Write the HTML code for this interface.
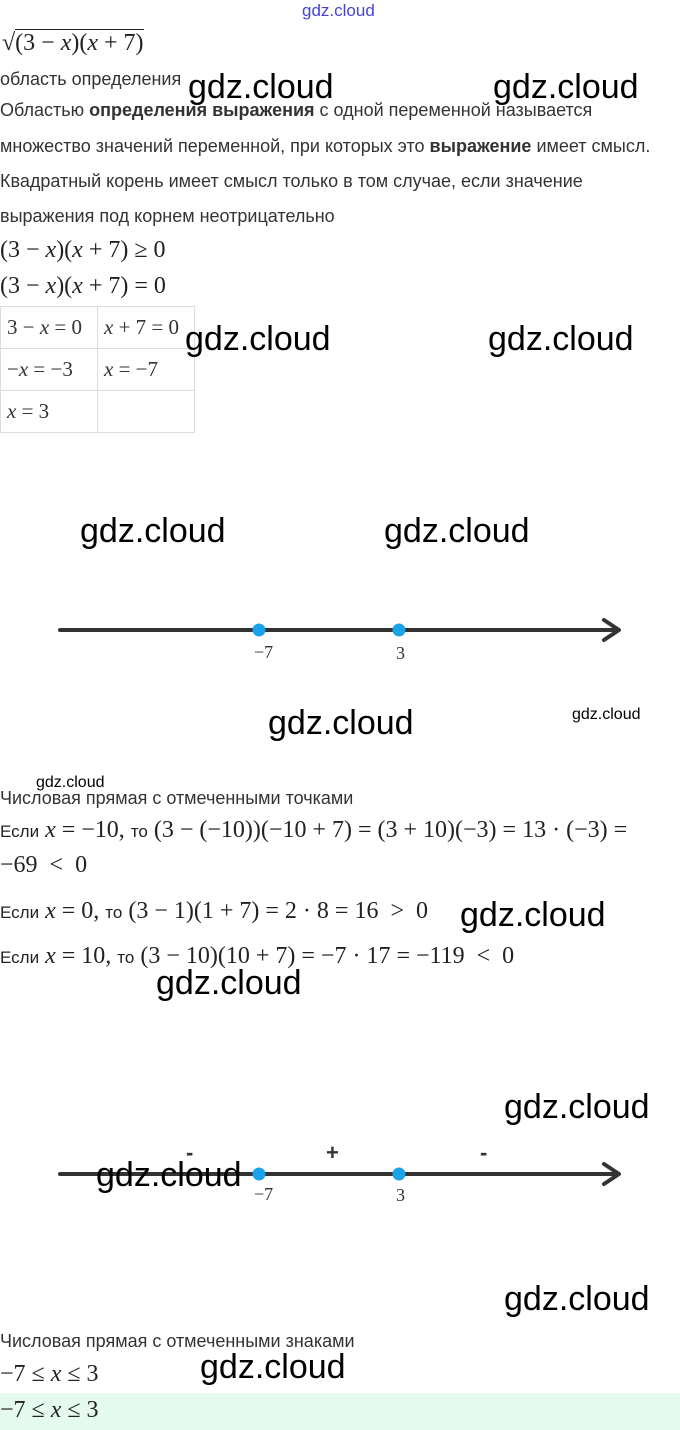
<!DOCTYPE html>
<html><head><meta charset="utf-8"><style>
body{margin:0;width:680px;height:1430px;position:relative;background:#fff;overflow:hidden;font-family:"Liberation Sans",sans-serif;color:#333}
.t{position:absolute;font-size:18px;line-height:18px;white-space:nowrap}
.m{position:absolute;font-family:"Liberation Serif",serif;font-size:24px;line-height:24px;white-space:nowrap;color:#222}
.m i{font-style:italic}
.m span.s{font-family:"Liberation Sans",sans-serif;font-size:17px}
.w{position:absolute;font-size:34px;line-height:34px;color:#000;white-space:nowrap}
.ws{position:absolute;font-size:16px;line-height:16px;color:#000}
.tab{position:absolute;left:0;top:306px;border-collapse:collapse}
.tab td{border:1px solid #ddd;width:97px;height:42px;padding:0 6px;font-family:"Liberation Serif",serif;font-size:21px;color:#333;box-sizing:border-box;white-space:nowrap}
</style></head><body>
<div style="position:absolute;left:0;top:1393px;width:680px;height:37px;background:#e6fbef"></div>
<div class="ws" style="left:302px;top:3px;color:#4444dd;font-size:17px">gdz.cloud</div>
<div class="m" style="left:2px;top:31px">√<span style="border-top:1px solid #222">(3 − <i>x</i>)(<i>x</i> + 7)</span></div>
<div class="t" style="left:0;top:70px">область определения</div>
<div class="t" style="left:0;top:101px">Областью <b>определения выражения</b> с одной переменной называется</div>
<div class="t" style="left:0;top:137px">множество значений переменной, при которых это <b>выражение</b> имеет смысл.</div>
<div class="t" style="left:0;top:172px">Квадратный корень имеет смысл только в том случае, если значение</div>
<div class="t" style="left:0;top:207px">выражения под корнем неотрицательно</div>
<div class="m" style="left:0;top:238px">(3 − <i>x</i>)(<i>x</i> + 7) ≥ 0</div>
<div class="m" style="left:0;top:274px">(3 − <i>x</i>)(<i>x</i> + 7) = 0</div>
<table class="tab"><tr><td>3 − <i>x</i> = 0</td><td><i>x</i> + 7 = 0</td></tr><tr><td>−<i>x</i> = −3</td><td><i>x</i> = −7</td></tr><tr><td><i>x</i> = 3</td><td></td></tr></table>
<svg style="position:absolute;left:0;top:0" width="680" height="1430">
<g stroke="#333" stroke-width="4" fill="none" stroke-linecap="round" stroke-linejoin="round">
<line x1="60" y1="630" x2="618" y2="630"/><polyline points="604,620 619,630 604,640"/>
<line x1="60" y1="1174" x2="618" y2="1174"/><polyline points="604,1164 619,1174 604,1184"/>
</g>
<g fill="#1aa3e8"><circle cx="259" cy="630" r="6.5"/><circle cx="399" cy="630" r="6.5"/><circle cx="259" cy="1174" r="6.5"/><circle cx="399" cy="1174" r="6.5"/></g>
<g font-family="Liberation Serif" font-size="18" fill="#333"><text x="254" y="658">−7</text><text x="396" y="659">3</text><text x="254" y="1200">−7</text><text x="396" y="1201">3</text></g>
<g font-family="Liberation Sans" font-size="22" fill="#333" font-weight="bold"><text x="186" y="1160">-</text><text x="326" y="1160">+</text><text x="480" y="1160">-</text></g>
</svg>
<div class="t" style="left:0;top:789px">Числовая прямая с отмеченными точками</div>
<div class="m" style="left:0;top:818px"><span class="s">Если</span> <i>x</i> = −10, <span class="s">то</span> (3 − (−10))(−10 + 7) = (3 + 10)(−3) = 13 · (−3) =</div>
<div class="m" style="left:0;top:853px">−69 &nbsp;&lt;&nbsp; 0</div>
<div class="m" style="left:0;top:899px"><span class="s">Если</span> <i>x</i> = 0, <span class="s">то</span> (3 − 1)(1 + 7) = 2 · 8 = 16 &nbsp;&gt;&nbsp; 0</div>
<div class="m" style="left:0;top:944px"><span class="s">Если</span> <i>x</i> = 10, <span class="s">то</span> (3 − 10)(10 + 7) = −7 · 17 = −119 &nbsp;&lt;&nbsp; 0</div>
<div class="t" style="left:0;top:1332px">Числовая прямая с отмеченными знаками</div>
<div class="m" style="left:0;top:1362px">−7 ≤ <i>x</i> ≤ 3</div>
<div class="m" style="left:0;top:1398px">−7 ≤ <i>x</i> ≤ 3</div>
<div class="w" style="left:188px;top:70px">gdz.cloud</div>
<div class="w" style="left:493px;top:70px">gdz.cloud</div>
<div class="w" style="left:185px;top:322px">gdz.cloud</div>
<div class="w" style="left:488px;top:322px">gdz.cloud</div>
<div class="w" style="left:80px;top:514px">gdz.cloud</div>
<div class="w" style="left:384px;top:514px">gdz.cloud</div>
<div class="w" style="left:268px;top:706px">gdz.cloud</div>
<div class="ws" style="left:572px;top:707px">gdz.cloud</div>
<div class="ws" style="left:36px;top:775px">gdz.cloud</div>
<div class="w" style="left:460px;top:898px">gdz.cloud</div>
<div class="w" style="left:156px;top:966px">gdz.cloud</div>
<div class="w" style="left:504px;top:1090px">gdz.cloud</div>
<div class="w" style="left:96px;top:1158px">gdz.cloud</div>
<div class="w" style="left:504px;top:1282px">gdz.cloud</div>
<div class="w" style="left:200px;top:1350px">gdz.cloud</div>
</body></html>
